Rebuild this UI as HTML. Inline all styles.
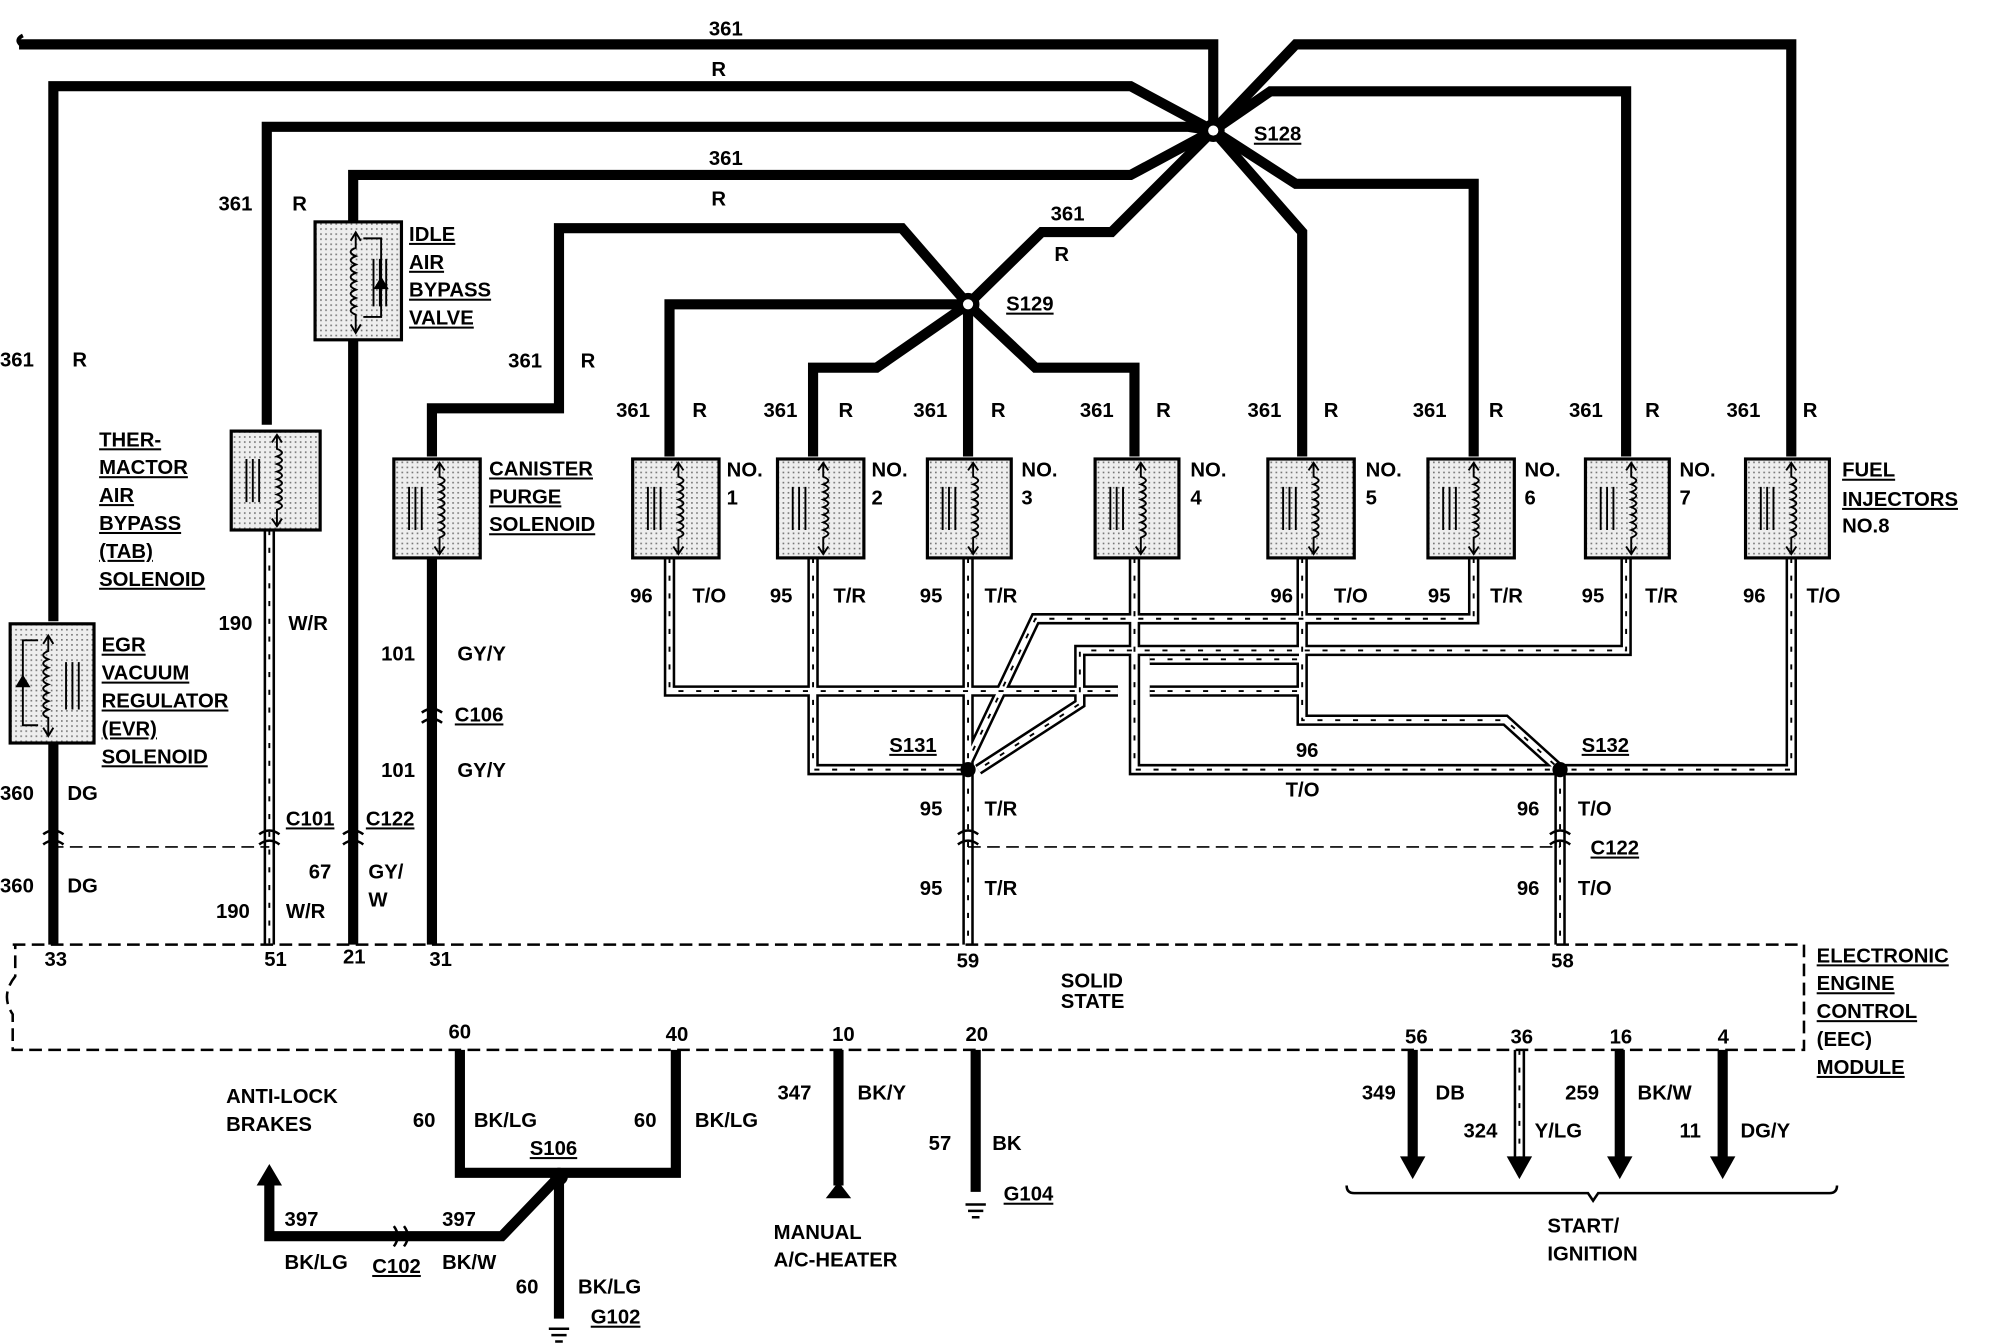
<!DOCTYPE html>
<html><head><style>html,body{margin:0;padding:0;background:#fff}svg{display:block}
text{font-family:"Liberation Sans",sans-serif;font-weight:bold;font-size:16px;fill:#000}
.u{text-decoration:underline}</style></head><body>
<svg width="1992" height="1344" viewBox="0 0 1568 1060" preserveAspectRatio="none" xmlns="http://www.w3.org/2000/svg">
<defs>
<pattern id="dot" width="4" height="4" patternUnits="userSpaceOnUse"><rect width="4" height="4" fill="#eee"/><rect width="1.3" height="1.3" fill="#777"/></pattern>
<g id="sym" fill="none" stroke="#000" stroke-width="1.5">
<path d="M12,22 V56 M17,22 V56 M22,22 V56"/>
<path d="M36,4 V14 q8,3 0,6 q8,3 0,6 q8,3 0,6 q8,3 0,6 q8,3 0,6 q8,3 0,6 q8,3 0,6 q8,3 0,6 V74"/>
<path d="M32,9 L36,3 L40,9 M32,69 L36,75 L40,69"/>
</g>
<g id="cn" fill="none" stroke="#000" stroke-width="2"><path d="M-8,-4 Q0,-10 8,-4 M-8,4 Q0,-2 8,4"/></g>
</defs>
<g fill="none" stroke="#000" stroke-width="8" stroke-linejoin="miter">
<path d="M15,35 H955 V103"/>
<path d="M42,490 V68 H890 L955,103"/>
<path d="M210,335 V100 H935 L955,103"/>
<path d="M278,175 V138 H890 L955,103"/>
<path d="M340,360 V322 H440 V180 H710 L762,240"/>
<path d="M762,240 L820,183 H875 L955,103"/>
<path d="M527,360 V240 H762"/>
<path d="M640,360 V290 H690 L762,240"/>
<path d="M762,360 V240"/>
<path d="M893,360 V290 H815 L762,240"/>
<path d="M1025,360 V183 L955,103"/>
<path d="M1160,360 V145 H1020 L955,103"/>
<path d="M1280,360 V72 H1000 L955,103"/>
<path d="M1410,360 V35 H1020 L955,103"/>
<path d="M42,586 V745"/><path d="M278,268 V745"/><path d="M340,440 V745"/>
<path d="M362,828 V925 H532 V828"/>
<path d="M440,928 V1040"/>
<path d="M440,928 L395,975 H212 V935"/>
<path d="M660,828 V935"/><path d="M768,828 V940"/>
<path d="M1112,828 V915"/><path d="M1275,828 V915"/><path d="M1356,828 V915"/>
</g>
<path d="M18,28 q-6,3 -2,7" stroke="#000" stroke-width="3" fill="none"/>
<g fill="none" stroke-linejoin="miter">
<g stroke="#000" stroke-width="9">
<path id="h" d="M527,440 V545 H880 M640,440 V607 H762 M762,440 V745 M893,440 V607 H1228 M1025,440 V568 H1185 L1228,607 M1160,440 V488 H815 L762,600 M1280,440 V513 H850 V555 L770,607 M1410,440 V607 H1228 V745 M212,418 V745 M1196,828 V915 M905,545 H1025 M905,520 H1025"/>
</g>
<g stroke="#fff" stroke-width="5"><use href="#h"/></g>
<g stroke="#000" stroke-width="1.5" stroke-dasharray="4 10"><use href="#h"/></g>
</g>
<g fill="#000">
<circle cx="955" cy="103" r="9"/><circle cx="762" cy="240" r="9"/>
<circle cx="762" cy="607" r="6"/><circle cx="1228" cy="607" r="6"/><circle cx="440" cy="928" r="7"/>
<polygon points="202,935 212,918 222,935"/><polygon points="650,945 660,932 670,945"/>
<polygon points="1102,912 1112,930 1122,912"/><polygon points="1186,912 1196,930 1206,912"/><polygon points="1265,912 1275,930 1285,912"/><polygon points="1346,912 1356,930 1366,912"/>
</g>
<circle cx="955" cy="103" r="4" fill="#fff"/><circle cx="762" cy="240" r="4" fill="#fff"/>
<g stroke="#000" stroke-width="2" fill="none">
<path d="M760,950 h16 M762,955 h12 M765,960 h6 M432,1048 h16 M434,1053 h12 M437,1058 h6"/>
<path d="M1060,935 q0,6 6,6 H1250 l4,6 l4,-6 H1440 q6,0 6,-6"/>
</g>
<g stroke="#000" stroke-width="2" fill="none" stroke-dasharray="10 5">
<path d="M10,745 H1420 V828 H10 V800 Q0,785 12,770 V745"/>
<path d="M40,668 H212 M762,668 H1228" stroke-width="1.3"/>
</g>
<g stroke="#000" stroke-width="2.5" fill="url(#dot)">
<rect x="498" y="362" width="68" height="78"/><rect x="612" y="362" width="68" height="78"/>
<rect x="730" y="362" width="66" height="78"/><rect x="862" y="362" width="66" height="78"/>
<rect x="998" y="362" width="68" height="78"/><rect x="1124" y="362" width="68" height="78"/>
<rect x="1248" y="362" width="66" height="78"/><rect x="1374" y="362" width="66" height="78"/>
<rect x="182" y="340" width="70" height="78"/><rect x="310" y="362" width="68" height="78"/>
<rect x="248" y="175" width="68" height="93"/><rect x="8" y="492" width="66" height="94"/>
</g>
<use href="#sym" x="498" y="362"/><use href="#sym" x="612" y="362"/><use href="#sym" x="730" y="362"/><use href="#sym" x="862" y="362"/>
<use href="#sym" x="998" y="362"/><use href="#sym" x="1124" y="362"/><use href="#sym" x="1248" y="362"/><use href="#sym" x="1374" y="362"/>
<use href="#sym" x="182" y="340"/><use href="#sym" x="310" y="362"/>
<use href="#sym" transform="translate(316,180) scale(-1,1.1)"/><use href="#sym" transform="translate(74,498) scale(-1,1.1)"/>
<g fill="#000"><polygon points="294,228 306,228 300,218"/><polygon points="12,542 24,542 18,532"/></g>
<g fill="none" stroke="#000" stroke-width="1.5"><path d="M286,188 H300 V250 H286 M30,505 H18 V572 H30"/></g>
<use href="#cn" x="42" y="662"/><use href="#cn" x="212" y="662"/><use href="#cn" x="278" y="662"/><use href="#cn" x="340" y="566"/>
<use href="#cn" x="762" y="662"/><use href="#cn" x="1228" y="662"/>
<use href="#cn" transform="translate(314,975) rotate(90)"/>
<g>
<text x="558" y="28">361</text><text x="560" y="60">R</text><text x="558" y="130">361</text><text x="560" y="162">R</text>
<text x="987" y="111" class="u">S128</text><text x="792" y="245" class="u">S129</text>
<text x="827" y="174">361</text><text x="830" y="206">R</text>
<text x="172" y="166">361</text><text x="230" y="166">R</text>
<text x="0" y="289">361</text><text x="57" y="289">R</text>
<text x="400" y="290">361</text><text x="457" y="290">R</text>
<text x="485" y="329">361</text><text x="545" y="329">R</text>
<text x="601" y="329">361</text><text x="660" y="329">R</text>
<text x="719" y="329">361</text><text x="780" y="329">R</text>
<text x="850" y="329">361</text><text x="910" y="329">R</text>
<text x="982" y="329">361</text><text x="1042" y="329">R</text>
<text x="1112" y="329">361</text><text x="1172" y="329">R</text>
<text x="1235" y="329">361</text><text x="1295" y="329">R</text>
<text x="1359" y="329">361</text><text x="1419" y="329">R</text>
<text x="572" y="376">NO.</text><text x="572" y="398">1</text>
<text x="686" y="376">NO.</text><text x="686" y="398">2</text>
<text x="804" y="376">NO.</text><text x="804" y="398">3</text>
<text x="937" y="376">NO.</text><text x="937" y="398">4</text>
<text x="1075" y="376">NO.</text><text x="1075" y="398">5</text>
<text x="1200" y="376">NO.</text><text x="1200" y="398">6</text>
<text x="1322" y="376">NO.</text><text x="1322" y="398">7</text>
<text x="1450" y="376" class="u">FUEL</text><text x="1450" y="399" class="u">INJECTORS</text><text x="1450" y="420">NO.8</text>
<text x="322" y="190" class="u">IDLE</text><text x="322" y="212" class="u">AIR</text><text x="322" y="234" class="u">BYPASS</text><text x="322" y="256" class="u">VALVE</text>
<text x="78" y="352" class="u">THER-</text><text x="78" y="374" class="u">MACTOR</text><text x="78" y="396" class="u">AIR</text><text x="78" y="418" class="u">BYPASS</text><text x="78" y="440" class="u">(TAB)</text><text x="78" y="462" class="u">SOLENOID</text>
<text x="385" y="375" class="u">CANISTER</text><text x="385" y="397" class="u">PURGE</text><text x="385" y="419" class="u">SOLENOID</text>
<text x="80" y="514" class="u">EGR</text><text x="80" y="536" class="u">VACUUM</text><text x="80" y="558" class="u">REGULATOR</text><text x="80" y="580" class="u">(EVR)</text><text x="80" y="602" class="u">SOLENOID</text>
<text x="496" y="475">96</text><text x="545" y="475">T/O</text><text x="606" y="475">95</text><text x="656" y="475">T/R</text>
<text x="724" y="475">95</text><text x="775" y="475">T/R</text><text x="1000" y="475">96</text><text x="1050" y="475">T/O</text>
<text x="1124" y="475">95</text><text x="1173" y="475">T/R</text><text x="1245" y="475">95</text><text x="1295" y="475">T/R</text>
<text x="1372" y="475">96</text><text x="1422" y="475">T/O</text>
<text x="700" y="593" class="u">S131</text><text x="1245" y="593" class="u">S132</text>
<text x="1020" y="597">96</text><text x="1012" y="628">T/O</text>
<text x="724" y="643">95</text><text x="775" y="643">T/R</text><text x="1194" y="643">96</text><text x="1242" y="643">T/O</text>
<text x="1252" y="674" class="u">C122</text>
<text x="724" y="706">95</text><text x="775" y="706">T/R</text><text x="1194" y="706">96</text><text x="1242" y="706">T/O</text>
<text x="172" y="497">190</text><text x="227" y="497">W/R</text>
<text x="300" y="521">101</text><text x="360" y="521">GY/Y</text>
<text x="358" y="569" class="u">C106</text>
<text x="300" y="613">101</text><text x="360" y="613">GY/Y</text>
<text x="0" y="631">360</text><text x="53" y="631">DG</text>
<text x="225" y="651" class="u">C101</text><text x="288" y="651" class="u">C122</text>
<text x="243" y="693">67</text><text x="290" y="693">GY/</text><text x="290" y="715">W</text>
<text x="0" y="704">360</text><text x="53" y="704">DG</text>
<text x="170" y="724">190</text><text x="225" y="724">W/R</text>
<g style="font-size:12px"><text x="35" y="762">33</text><text x="208" y="762">51</text><text x="270" y="760">21</text><text x="338" y="762">31</text>
<text x="753" y="763">59</text><text x="1221" y="763">58</text>
<text x="835" y="779">SOLID</text><text x="835" y="795">STATE</text>
<text x="353" y="819">60</text><text x="524" y="821">40</text><text x="655" y="821">10</text><text x="760" y="821">20</text>
<text x="1106" y="823">56</text><text x="1189" y="823">36</text><text x="1267" y="823">16</text><text x="1352" y="823">4</text></g>
<text x="1430" y="759" class="u">ELECTRONIC</text><text x="1430" y="781" class="u">ENGINE</text><text x="1430" y="803" class="u">CONTROL</text><text x="1430" y="825">(EEC)</text><text x="1430" y="847" class="u">MODULE</text>
<text x="178" y="870">ANTI-LOCK</text><text x="178" y="892">BRAKES</text>
<text x="325" y="889">60</text><text x="373" y="889">BK/LG</text><text x="499" y="889">60</text><text x="547" y="889">BK/LG</text>
<text x="417" y="911" class="u">S106</text>
<text x="612" y="867">347</text><text x="675" y="867">BK/Y</text>
<text x="731" y="907">57</text><text x="781" y="907">BK</text><text x="790" y="947" class="u">G104</text>
<text x="609" y="977">MANUAL</text><text x="609" y="999">A/C-HEATER</text>
<text x="224" y="967">397</text><text x="348" y="967">397</text>
<text x="224" y="1001">BK/LG</text><text x="293" y="1004" class="u">C102</text><text x="348" y="1001">BK/W</text>
<text x="406" y="1020">60</text><text x="455" y="1020">BK/LG</text><text x="465" y="1044" class="u">G102</text>
<text x="1072" y="867">349</text><text x="1130" y="867">DB</text>
<text x="1152" y="897">324</text><text x="1208" y="897">Y/LG</text>
<text x="1232" y="867">259</text><text x="1289" y="867">BK/W</text>
<text x="1322" y="897">11</text><text x="1370" y="897">DG/Y</text>
<text x="1218" y="972">START/</text><text x="1218" y="994">IGNITION</text>
</g>
</svg>
</body></html>
